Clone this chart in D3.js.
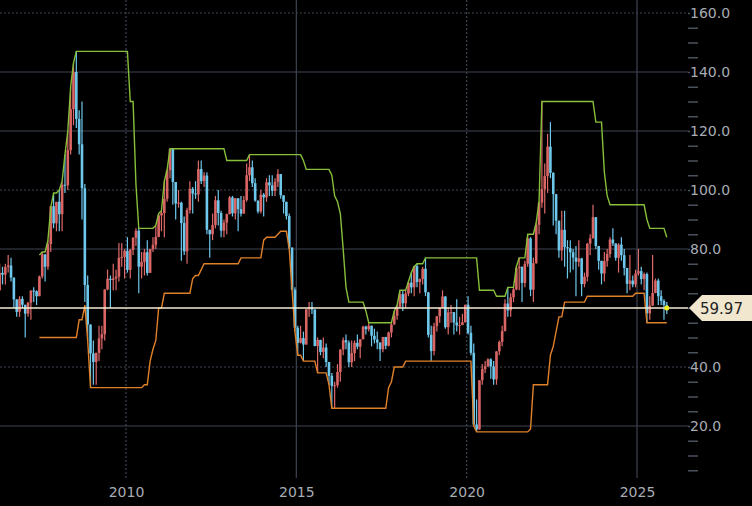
<!DOCTYPE html>
<html>
<head>
<meta charset="utf-8">
<script src="https://d3js.org/d3.v7.min.js"></script>
<style>
body {margin:0; background:#000;}
text {font-family:"DejaVu Sans", sans-serif;}
</style>
</head>
<body>
<svg id="chart" width="752" height="506"></svg>
<script>
// monthly candles, Apr 2006 - Nov 2025
var startYear = 2006, startMonth = 3;
var closes = [71.9,71.3,73.9,74.4,70.3,62.9,58.7,63.1,61.1,
 58.1,61.8,65.9,65.7,64.0,70.7,78.2,74.0,81.7,94.5,88.7,96.0,
 91.8,101.8,101.6,113.5,127.4,140.0,124.1,115.5,100.6,67.8,54.4,44.6,
 41.7,44.8,49.7,51.1,66.3,69.9,69.5,70.0,70.6,77.0,77.3,79.4,
 72.9,79.7,83.8,86.2,74.0,75.6,78.9,71.9,80.0,81.4,84.1,91.4,
 92.2,97.0,106.7,113.9,102.7,95.4,95.7,88.8,79.2,93.2,100.4,98.8,
 98.5,107.1,103.0,104.9,86.5,85.0,88.1,96.5,92.2,86.2,88.9,91.8,
 97.5,92.1,97.2,93.5,92.0,96.6,105.0,107.7,102.3,96.4,92.7,98.4,
 97.5,102.6,101.6,99.7,102.7,105.4,98.2,96.0,91.2,80.5,66.2,53.3,
 48.2,49.8,47.6,59.6,60.3,59.5,47.1,49.2,45.1,46.6,41.7,37.0,
 33.6,33.8,38.3,45.9,49.1,48.3,41.6,44.7,48.2,46.9,49.4,53.7,
 52.8,54.0,50.6,49.3,48.3,46.0,50.2,47.2,51.7,54.4,57.4,60.4,
 64.7,61.6,64.9,68.6,67.0,74.2,68.8,69.8,73.3,65.3,50.9,45.4,
 53.8,57.2,60.1,63.9,53.5,58.5,58.6,55.1,54.1,54.2,55.2,61.1,
 51.6,44.8,20.5,18.8,35.5,39.3,40.3,42.6,40.2,35.8,45.3,48.5,
 52.2,61.5,59.2,63.6,66.3,73.5,74.0,68.5,75.0,83.6,66.2,75.2,
 88.2,95.7,100.3,104.7,114.7,105.8,98.6,89.6,79.5,86.5,80.6,80.3,
 78.9,77.1,75.7,76.8,68.1,70.6,81.8,83.6,90.8,81.0,76.0,71.7,
 75.9,78.3,83.2,81.9,77.0,81.5,77.9,73.6,68.2,69.3,68.0,71.7,
 72.5,69.8,71.5,58.2,60.8,65.1,69.3,64.0,62.4,61.0,59.97];
var highs = [75,74,75,78,77,70,63,64,64,
 59,62,66,67,66,71,79,78,83,94,99,96,
 100,103,112,120,135,143,147,127,130,102,71,50,
 49,43,54,54,66,73,71,75,73,82,82,80,
 84,80,84,87,87,79,80,83,80,84,88,92,
 93,103,107,114,114,102,100,96,91,94,103,101,
 103,110,110,106,106,86,92,98,100,93,90,92,
 98,98,97,97,98,98,109,112,110,104,95,100,
 99,104,105,105,104,107,105,98,96,92,80,67,
 54,54,52,59,62,62,59,50,48,50,48,38,
 38,35,41,46,50,51,49,49,49,51,49,54,
 54,55,54,53,52,48,50,50,52,55,59,61,
 66,66,66,69,72,74,75,70,74,77,64,54,
 55,57,60,66,64,60,61,57,63,57,58,61,
 64,54,48,29,35,41,42,43,43,42,45,49,
 54,63,67,65,67,74,77,74,76,85,84,77,
 89,96,130,109,119,123,106,98,89,93,93,83,
 83,80,81,83,77,72,82,85,95,90,80,75,
 79,80,84,87,80,82,84,80,72,78,71,73,
 80,74,72,72,64,78,70,70,66,63,62];
var lows = [66,68,68,72,69,60,57,57,60,
 50,57,56,62,61,64,70,69,73,79,87,86,
 86,86,99,100,112,122,121,112,90,62,49,33,
 34,34,42,46,49,66,60,66,66,69,74,70,
 72,70,78,81,65,70,71,71,73,79,80,84,
 86,84,96,104,95,90,94,76,78,75,92,92,
 97,96,102,101,85,77,83,87,88,84,84,85,
 92,91,90,86,91,92,96,103,101,96,92,92,
 91,96,98,98,98,101,97,92,90,80,66,52,
 44,48,42,49,57,58,47,38,44,43,40,34,
 26,26,33,35,44,46,40,40,42,46,43,50,
 51,52,47,48,46,42,45,46,47,50,55,56,
 60,59,60,64,65,64,67,65,68,64,50,42,
 44,52,55,60,53,51,55,51,52,51,55,55,
 51,44,20,18,19,34,38,40,36,34,34,44,
 47,52,57,57,62,66,66,62,67,74,64,62,
 75,85,94,92,99,104,88,85,77,76,74,70,
 72,73,64,74,64,67,69,78,85,80,73,68,
 69,74,77,81,76,72,76,71,65,66,67,67,
 71,68,66,55,56,61,65,61,61,56,58];
var firstOpen = 66;
var yTicks = [20,40,60,80,100,120,140,160];
var dottedTicks = [40,100,160];
var xTicks = [2010,2015,2020,2025];
var dottedYears = [2010,2020];
var lastPrice = 59.97;
var win = 19;

var svg = d3.select("#chart");
var x = d3.scaleLinear().domain([2010,2025]).range([126,637]);
var y = d3.scaleLinear().domain([20,160]).range([426,13]);
var plotRight = 688;

var data = closes.map(function(c,i){
  var m = startMonth + i;
  return {t: startYear + m/12 + 1/24, o: i==0 ? firstOpen : closes[i-1], c: c, h: highs[i], l: lows[i]};
});
// rolling channel
data.forEach(function(d,i){
  var s = data.slice(Math.max(0,i-win+1), i+1);
  d.up = d3.max(s, function(e){return e.h;});
  d.dn = d3.min(s, function(e){return e.l;});
});

// grid
svg.selectAll(".hg").data(yTicks.filter(function(d){return d!=60;})).enter().append("line")
  .attr("x1",0).attr("x2",plotRight).attr("y1",function(d){return y(d);}).attr("y2",function(d){return y(d);})
  .attr("stroke","#3e4452").attr("stroke-width",1.2)
  .attr("stroke-dasharray",function(d){return dottedTicks.indexOf(d)>=0 ? "2,2" : null;});
svg.selectAll(".vg").data(xTicks).enter().append("line")
  .attr("x1",function(d){return x(d);}).attr("x2",function(d){return x(d);}).attr("y1",0).attr("y2",478)
  .attr("stroke","#3e4452").attr("stroke-width",1.2)
  .attr("stroke-dasharray",function(d){return dottedYears.indexOf(d)>=0 ? "2,2" : null;});

// candles
var cw = 2.6;
svg.selectAll(".wick").data(data).enter().append("line")
  .attr("x1",function(d){return x(d.t);}).attr("x2",function(d){return x(d.t);})
  .attr("y1",function(d){return y(Math.max(d.h,d.o,d.c));}).attr("y2",function(d){return y(Math.min(d.l,d.o,d.c));})
  .attr("stroke",function(d){return d.c>=d.o ? "#e06a6a" : "#6ec8ec";}).attr("stroke-width",1.2);
svg.selectAll(".body").data(data).enter().append("rect")
  .attr("x",function(d){return x(d.t)-cw/2;}).attr("width",cw)
  .attr("y",function(d){return y(Math.max(d.o,d.c));})
  .attr("height",function(d){return Math.max(1,Math.abs(y(d.o)-y(d.c)));})
  .attr("fill",function(d){return d.c>=d.o ? "#d96565" : "#6ec8ec";});

// channels
var ch = data.slice(14);
svg.append("path").datum(ch).attr("fill","none").attr("stroke","#86bf3a").attr("stroke-width",1.4)
  .attr("d",d3.line().x(function(d){return x(d.t);}).y(function(d){return y(d.up);}));
svg.append("path").datum(ch).attr("fill","none").attr("stroke","#e0812a").attr("stroke-width",1.4)
  .attr("d",d3.line().x(function(d){return x(d.t);}).y(function(d){return y(d.dn);}));

// price line
svg.append("line").attr("x1",0).attr("x2",plotRight).attr("y1",y(lastPrice)).attr("y2",y(lastPrice))
  .attr("stroke","#f4ecd2").attr("stroke-width",1.5);
var last = data[data.length-1];
svg.append("circle").attr("cx",x(last.t)).attr("cy",y(lastPrice)).attr("r",2.5).attr("fill","#f0f020");

// right axis
var axis = d3.axisRight(y).tickValues(d3.range(5,161,5)).tickSize(10)
  .tickFormat(function(d){return d%20==0 && d!=60 ? d3.format(".1f")(d) : "";});
var ag = svg.append("g").attr("transform","translate(" + plotRight + ",0)").call(axis);
ag.select(".domain").remove();
ag.selectAll("line").attr("stroke","#4a505c").attr("stroke-width",1.5)
  .attr("x2",function(d){return d%20==0 ? 2 : 10;});
ag.selectAll("text").attr("x",2).attr("fill","#a8acb4").style("font-size","14px");

// bottom axis
var bx = d3.axisBottom(x).tickValues(xTicks).tickSize(0).tickFormat(d3.format("d"));
var bg = svg.append("g").attr("transform","translate(0,478)").call(bx);
bg.select(".domain").remove();
bg.selectAll("text").attr("dy","0.35em").attr("y",14).attr("fill","#a8acb4").style("font-size","14px");

// price tag
var py = y(lastPrice);
svg.append("path").attr("d","M689," + py + " L702," + (py-13) + " L752," + (py-13) + " L752," + (py+13) + " L702," + (py+13) + " Z")
  .attr("fill","#f1e7cf");
svg.append("text").attr("x",700).attr("y",py+5.5).attr("fill","#222").style("font-size","15px").text(lastPrice.toFixed(2));
</script>
</body>
</html>
